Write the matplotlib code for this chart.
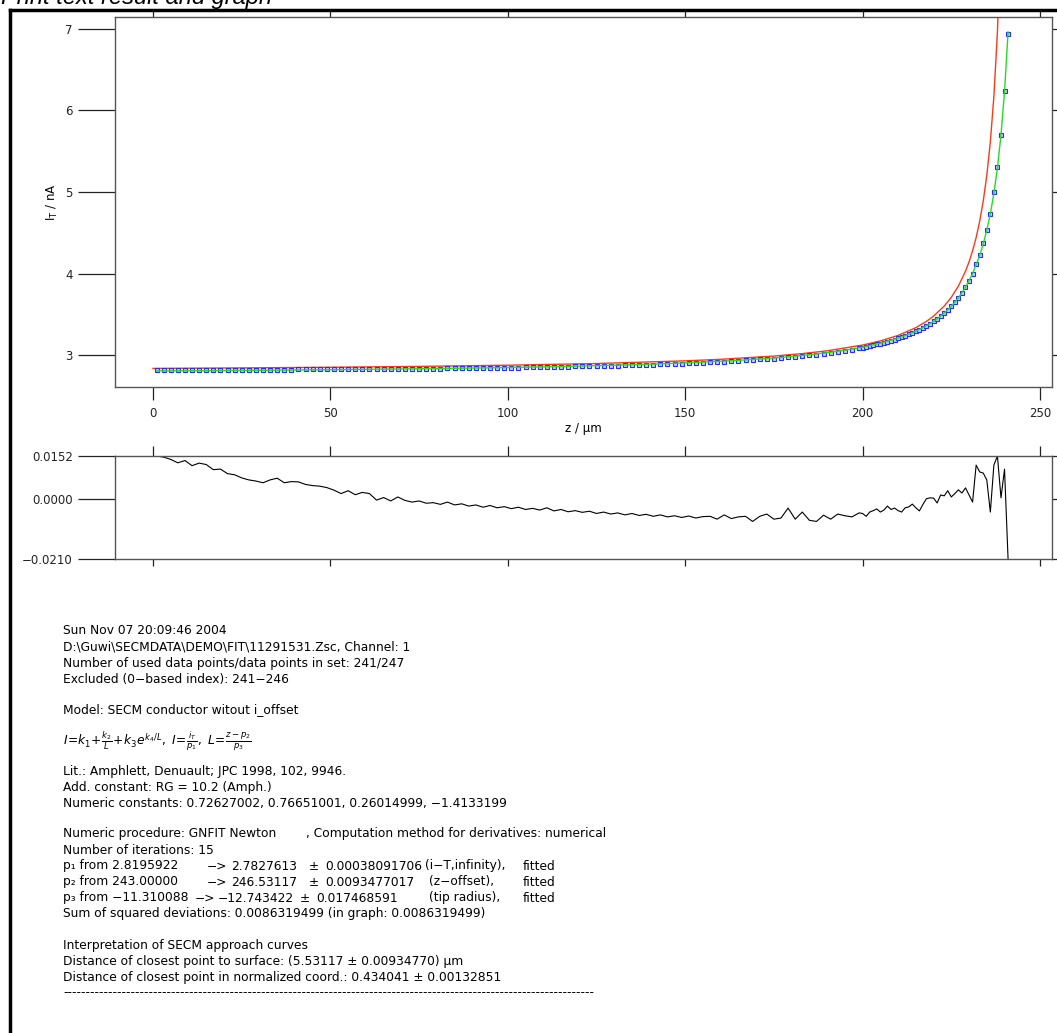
import matplotlib.pyplot as plt
from matplotlib.lines import Line2D
from matplotlib.ticker import FixedLocator

plt.rcParams['font.family'] = ['DejaVu Sans']
plt.rcParams['mathtext.fontset'] = 'dejavusans'

W, H = 1057, 1033

# measured approach curve, z in um (every 2 um first, then every 1 um)
z_points = list(range(1, 200, 2)) + list(range(200, 242))
i_points = [
    2.820, 2.820, 2.820, 2.819, 2.820, 2.819, 2.820, 2.820, 2.819, 2.820,
    2.819, 2.819, 2.819, 2.819, 2.819, 2.819, 2.821, 2.822, 2.821, 2.822,
    2.823, 2.823, 2.823, 2.823, 2.824, 2.824, 2.823, 2.825, 2.824, 2.826,
    2.827, 2.825, 2.827, 2.827, 2.829, 2.829, 2.829, 2.831, 2.831, 2.832,
    2.833, 2.835, 2.835, 2.837, 2.837, 2.839, 2.839, 2.841, 2.842, 2.843,
    2.844, 2.846, 2.847, 2.849, 2.850, 2.853, 2.853, 2.856, 2.857, 2.859,
    2.860, 2.863, 2.864, 2.867, 2.868, 2.871, 2.873, 2.876, 2.878, 2.881,
    2.883, 2.887, 2.889, 2.893, 2.895, 2.899, 2.903, 2.907, 2.911, 2.914,
    2.920, 2.924, 2.929, 2.935, 2.938, 2.946, 2.952, 2.957, 2.964, 2.975,
    2.978, 2.990, 2.996, 3.005, 3.017, 3.027, 3.041, 3.053, 3.067, 3.084,
    3.092, 3.100, 3.110, 3.120, 3.131, 3.140, 3.152, 3.165, 3.177, 3.190,
    3.203, 3.218, 3.235, 3.252, 3.271, 3.289, 3.309, 3.333, 3.359, 3.385,
    3.413, 3.442, 3.478, 3.514, 3.556, 3.598, 3.648, 3.704, 3.764, 3.835,
    3.911, 3.997, 4.113, 4.231, 4.372, 4.537, 4.729, 4.995, 5.311, 5.698,
    6.240, 6.943,
]
# deviation data - fit, same z grid
residuals = [
    0.0152, 0.0148, 0.0140, 0.0128, 0.0136, 0.0118, 0.0127, 0.0122, 0.0104, 0.0106,
    0.0090, 0.0086, 0.0075, 0.0068, 0.0064, 0.0058, 0.0068, 0.0074, 0.0058, 0.0062,
    0.0061, 0.0052, 0.0048, 0.0046, 0.0041, 0.0032, 0.0020, 0.0030, 0.0016, 0.0024,
    0.0020, -0.0003, 0.0006, -0.0006, 0.0008, -0.0004, -0.0010, -0.0006, -0.0014, -0.0012,
    -0.0018, -0.0010, -0.0020, -0.0016, -0.0024, -0.0020, -0.0028, -0.0022, -0.0030, -0.0026,
    -0.0033, -0.0028, -0.0036, -0.0032, -0.0038, -0.0030, -0.0041, -0.0036, -0.0044, -0.0040,
    -0.0046, -0.0042, -0.0050, -0.0045, -0.0052, -0.0048, -0.0055, -0.0050, -0.0057, -0.0053,
    -0.0060, -0.0055, -0.0062, -0.0058, -0.0064, -0.0059, -0.0066, -0.0061, -0.0060, -0.0070,
    -0.0055, -0.0068, -0.0062, -0.0060, -0.0078, -0.0060, -0.0052, -0.0070, -0.0066, -0.0031,
    -0.0070, -0.0045, -0.0074, -0.0078, -0.0056, -0.0070, -0.0052, -0.0058, -0.0062, -0.0048,
    -0.0050, -0.0060, -0.0045, -0.0040, -0.0034, -0.0045, -0.0038, -0.0024, -0.0036, -0.0031,
    -0.0040, -0.0045, -0.0030, -0.0027, -0.0017, -0.0030, -0.0041, -0.0018, 0.0002, 0.0005,
    0.0004, -0.0013, 0.0015, 0.0012, 0.0030, 0.0008, 0.0020, 0.0033, 0.0022, 0.0040,
    0.0015, -0.0010, 0.0120, 0.0096, 0.0092, 0.0068, -0.0045, 0.0120, 0.0152, 0.0005,
    0.0106, -0.0210,
]

# fitted curve (green)
z_fit = [1, 10, 20, 30, 40, 50, 60, 70, 80, 90, 100, 110, 120, 130, 140, 150, 160,
         165, 170, 175, 180, 185, 190, 195, 200, 205, 210, 213, 215, 217, 219, 221,
         223, 225, 227, 229, 231, 233, 234, 235, 236, 237, 238, 239, 240, 241]
i_fit = [2.8045, 2.8068, 2.8096, 2.8127, 2.8162, 2.8199, 2.8241, 2.8287, 2.8340,
         2.8399, 2.8467, 2.8546, 2.8638, 2.8745, 2.8875, 2.9033, 2.9231, 2.9349,
         2.9484, 2.9638, 2.9818, 3.0030, 3.0283, 3.0589, 3.0968, 3.1447, 3.2073,
         3.2548, 3.2920, 3.3349, 3.3847, 3.4432, 3.5129, 3.5971, 3.7007, 3.8308,
         3.9983, 4.2213, 4.3624, 4.5303, 4.7333, 4.9826, 5.2953, 5.6971, 6.2296, 6.9643]

# curve with start parameters (red)
z_start = [0, 25, 50, 75, 100, 125, 150, 160, 175, 183, 190, 200, 205, 210, 215, 218,
           220, 223, 225, 227, 229, 230, 231, 232, 233, 234, 235, 236, 237, 238, 239]
i_start = [2.8352, 2.8416, 2.8497, 2.8602, 2.8747, 2.8955, 2.9283, 2.9473, 2.9871,
           3.0172, 3.0515, 3.1220, 3.1727, 3.2404, 3.3352, 3.4126, 3.4766, 3.5998,
           3.7076, 3.8456, 4.0280, 4.1426, 4.2784, 4.4415, 4.6405, 4.8880, 5.2027,
           5.6145, 6.1729, 6.9666, 8.1723]

x_ticks = [0, 50, 100, 150, 200, 250]
y_ticks = [3, 4, 5, 6, 7]
res_ticks = [-0.0210, 0.0, 0.0152]
res_labels = ['\u22120.0210', '0.0000', '0.0152']

# report text: (y, x, text) in pixels
report = [
    (631, 63, 'Sun Nov 07 20:09:46 2004'),
    (647, 63, 'D:\\Guwi\\SECMDATA\\DEMO\\FIT\\11291531.Zsc, Channel: 1'),
    (663, 63, 'Number of used data points/data points in set: 241/247'),
    (679, 63, 'Excluded (0\u2212based index): 241\u2212246'),
    (710, 63, 'Model: SECM conductor witout i_offset'),
    (741, 63, r'$I\!=\!k_1\!+\!\frac{k_2}{L}\!+\!k_3e^{k_4/L},\ I\!=\!\frac{i_T}{p_1},\ L\!=\!\frac{z-p_2}{p_3}$'),
    (772, 63, 'Lit.: Amphlett, Denuault; JPC 1998, 102, 9946.'),
    (788, 63, 'Add. constant: RG = 10.2 (Amph.)'),
    (804, 63, 'Numeric constants: 0.72627002, 0.76651001, 0.26014999, \u22121.4133199'),
    (834, 63, 'Numeric procedure: GNFIT Newton'),
    (834, 306, ', Computation method for derivatives: numerical'),
    (850, 63, 'Number of iterations: 15'),
    (866, 63, 'p\u2081 from 2.8195922'), (866, 207, '\u2212>'), (866, 231, '2.7827613'),
    (866, 309, '\u00b1'), (866, 325, '0.00038091706'), (866, 425, '(i\u2212T,infinity),'),
    (866, 523, 'fitted'),
    (882, 63, 'p\u2082 from 243.00000'), (882, 207, '\u2212>'), (882, 231, '246.53117'),
    (882, 309, '\u00b1'), (882, 325, '0.0093477017'), (882, 429, '(z\u2212offset),'),
    (882, 523, 'fitted'),
    (898, 63, 'p\u2083 from \u221211.310088'), (898, 195, '\u2212>'), (898, 218, '\u221212.743422'),
    (898, 300, '\u00b1'), (898, 316, '0.017468591'), (898, 429, '(tip radius),'),
    (898, 523, 'fitted'),
    (914, 63, 'Sum of squared deviations: 0.0086319499 (in graph: 0.0086319499)'),
    (945, 63, 'Interpretation of SECM approach curves'),
    (961, 63, 'Distance of closest point to surface: (5.53117 \u00b1 0.00934770) \u03bcm'),
    (977, 63, 'Distance of closest point in normalized coord.: 0.434041 \u00b1 0.00132851'),
    (993, 63, '-' * 118),
]


def px_box(left, top, right, bottom):
    return [left / W, 1 - bottom / H, (right - left) / W, (bottom - top) / H]


def style_axes(ax):
    for s in ax.spines.values():
        s.set_color('#555555')
        s.set_linewidth(1.0)
    ax.xaxis.remove_overlapping_locs = False
    ax.xaxis.set_minor_locator(FixedLocator(x_ticks))
    ax.tick_params(axis='y', direction='out', length=27, width=0.9, left=True,
                   right=True, labelsize=8.5, pad=3.5, colors='#222222')
    ax.tick_params(axis='x', which='major', direction='out', bottom=True, top=False,
                   width=0.9, labelsize=8.5, colors='#222222')
    ax.tick_params(axis='x', which='minor', direction='out', bottom=False, top=True,
                   width=0.9, colors='#222222')


fig = plt.figure(figsize=(W / 100, H / 100), dpi=100)

# main plot: tip current vs distance
ax = fig.add_axes(px_box(115, 17, 1052, 387))
ax.plot(z_start, i_start, color='#ff3814', lw=1.0, zorder=2)
ax.plot(z_points, i_points, ls='none', marker='s', ms=3.0, mec='#2a2aff',
        mfc='#c8c8ff', mew=0.8, zorder=3)
ax.plot(z_fit, i_fit, color='#22dd22', lw=1.0, zorder=4)
ax.set_xlim(-10.71, 253.38)
ax.set_ylim(2.6074, 7.1472)
ax.set_xticks(x_ticks)
ax.set_yticks(y_ticks)
style_axes(ax)
ax.tick_params(axis='x', which='major', length=9.5, pad=5)
ax.tick_params(axis='x', which='minor', length=5)
ax.set_xlabel('z / \u03bcm', fontsize=8.5)
ax.xaxis.set_label_coords(0.5, -0.095)
ax.set_ylabel(r'I$_\mathrm{T}$ / nA', fontsize=8.5)
ax.yaxis.set_label_coords(-0.059, 0.5)

# residual plot
ax_res = fig.add_axes(px_box(115, 456, 1052, 559))
ax_res.plot(z_points, residuals, color='black', lw=0.8)
ax_res.set_xlim(-10.71, 253.38)
ax_res.set_ylim(-0.0210, 0.0152)
ax_res.set_xticks(x_ticks)
ax_res.set_xticklabels([])
ax_res.set_yticks(res_ticks)
ax_res.set_yticklabels(res_labels)
style_axes(ax_res)
ax_res.tick_params(axis='x', which='major', length=5)
ax_res.tick_params(axis='x', which='minor', length=7)

# page frame and cut-off title
fig.add_artist(Line2D([10 / W, 10 / W], [0, 1 - 10 / H], color='black', lw=2.5))
fig.add_artist(Line2D([10 / W, 1], [1 - 10 / H, 1 - 10 / H], color='black', lw=2.5))
fig.text(1 / W, 1 - 4 / H, 'Print text result and graph', fontsize=17,
         style='italic', family='Liberation Sans', va='baseline')

# text report
for y, x, line in report:
    fig.text(x / W, 1 - y / H, line, fontsize=8.8, va='center')

fig.savefig('out.png', dpi=100)
